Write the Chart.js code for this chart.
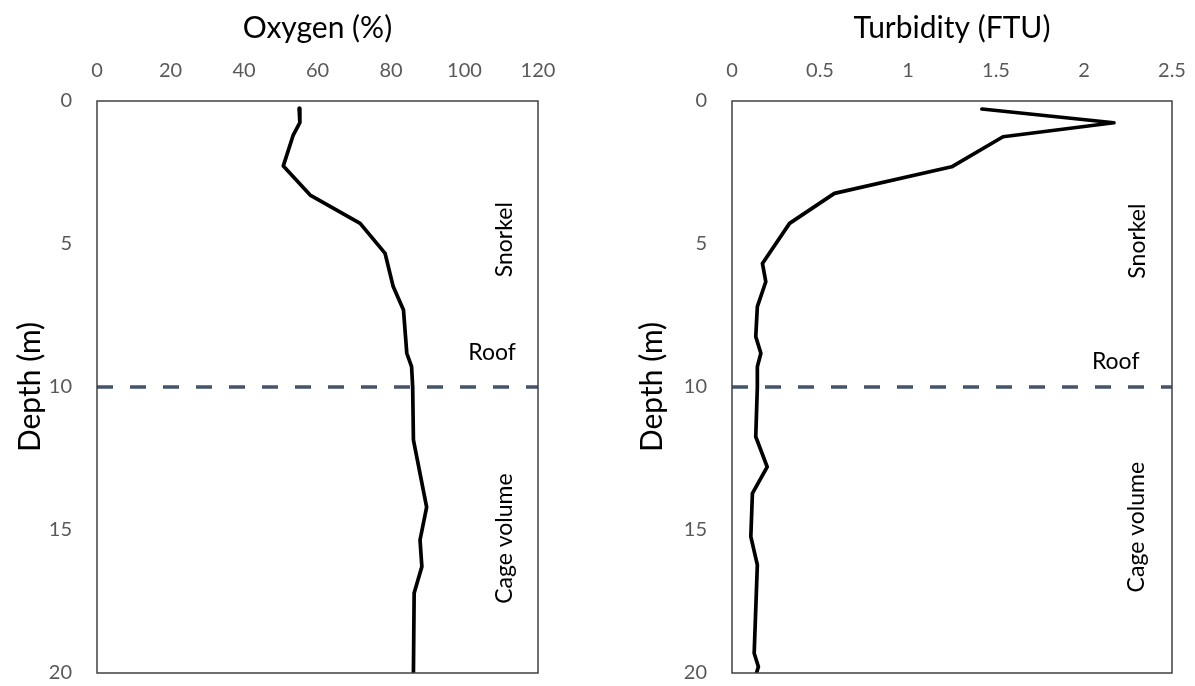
<!DOCTYPE html>
<html><head><meta charset="utf-8">
<script src="https://cdn.jsdelivr.net/npm/chart.js@4"></script>
<style>
html,body{margin:0;padding:0;background:#fff;width:1195px;height:686px;overflow:hidden}
canvas{position:absolute;top:0}
</style></head><body>
<canvas id="c1" width="597" height="686" style="left:0"></canvas>
<canvas id="c2" width="598" height="686" style="left:597px"></canvas>
<script>
// ---- data ----
const oxygenDepth  = [0.26, 0.76, 1.19, 2.27, 3.29, 4.28, 5.33, 6.49, 7.31, 8.82, 9.29, 10.0, 11.85, 14.2, 15.35, 16.28, 17.2, 20.0];
const oxygenValues = [55.0, 55.2, 53.4, 50.7, 58.0, 71.6, 78.4, 80.6, 83.4, 84.3, 85.6, 85.9, 86.1, 89.7, 87.9, 88.4, 86.3, 86.1];
const turbidityDepth  = [0.28, 0.76, 1.25, 2.3, 3.23, 4.28, 5.68, 6.32, 7.19, 8.24, 8.82, 9.29, 10.0, 11.74, 12.79, 13.72, 15.23, 16.22, 19.31, 19.78, 20.0];
const turbidityValues = [1.42, 2.17, 1.54, 1.248, 0.582, 0.327, 0.173, 0.192, 0.144, 0.135, 0.164, 0.144, 0.144, 0.135, 0.2, 0.116, 0.107, 0.144, 0.126, 0.15, 0.139];
const roofDepth = 10;
const depthTicks = [0, 5, 10, 15, 20];
const oxygenRange = [0, 120];
const turbidityRange = [0, 2.5];
const zoneLabels = ["Snorkel", "Roof", "Cage volume"];
const oxygenZoneDepths = [4.85, 8.8, 15.3];
const turbidityZoneDepths = [4.9, 9.1, 14.9];
const oxygenLabelX = [111, 107.5, 111];
const turbidityLabelX = [2.305, 2.18, 2.30];

const FONT = "Lato, 'Open Sans', sans-serif";
const TICK_COLOR = '#595959';

const boxPlugin = {
  id: 'box',
  beforeDraw(chart) {
    const c = chart.ctx;
    c.save(); c.fillStyle = '#fff'; c.fillRect(0, 0, chart.width, chart.height); c.restore();
  },
  afterDraw(chart) {
    const a = chart.chartArea, c = chart.ctx;
    c.save();
    c.strokeStyle = '#404040'; c.lineWidth = 1.5;
    c.strokeRect(a.left, a.top, a.right - a.left, a.bottom - a.top);
    const xs = chart.options.plugins.zoneX;
    const ys = chart.options.plugins.zoneY;
    c.fillStyle = '#000';
    c.font = "23px " + FONT;
    c.textAlign = 'center'; c.textBaseline = 'middle';
    zoneLabels.forEach((t, i) => {
      const px = chart.scales.x.getPixelForValue(xs[i]);
      const py = chart.scales.y.getPixelForValue(ys[i]);
      c.save();
      c.translate(px, py);
      if (t !== 'Roof') c.rotate(-Math.PI / 2);
      c.fillText(t, 0, 0);
      c.restore();
    });
    c.restore();
  }
};

function makeChart(id, xs, ds, range, step, title, yWidth, yTitlePad, padRight, zoneX, zoneY) {
  const pts = xs.map((v, i) => ({x: v, y: ds[i]}));
  return new Chart(document.getElementById(id), {
    type: 'scatter',
    data: {
      datasets: [
        {data: pts, showLine: true, borderColor: '#000', borderWidth: 3.7, borderJoinStyle: 'round', borderCapStyle: 'round',
         pointRadius: 0, tension: 0, fill: false},
        {data: [{x: range[0], y: roofDepth}, {x: range[1], y: roofDepth}], showLine: true, borderColor: '#44546A',
         borderWidth: 3.7, borderDash: [16, 17], pointRadius: 0, fill: false}
      ]
    },
    options: {
      responsive: false, animation: false,
      layout: {padding: {left: 0, top: 0, right: padRight, bottom: 13}},
      plugins: {legend: {display: false}, tooltip: {enabled: false}, zoneX: zoneX, zoneY: zoneY},
      scales: {
        x: {
          type: 'linear', position: 'top', min: range[0], max: range[1],
          afterFit(s) { s.height = 101; s.paddingLeft = 0; s.paddingRight = 0; },
          grid: {display: false, drawTicks: false},
          border: {display: false},
          ticks: {stepSize: step, color: TICK_COLOR, font: {family: FONT, size: 20}, padding: 18, maxRotation: 0,
                  callback: v => String(Number(v.toFixed(2)))},
          title: {display: true, text: title, color: '#000', font: {family: FONT, size: 30}, padding: {top: 10, bottom: 0}}
        },
        y: {
          type: 'linear', position: 'left', reverse: true, min: 0, max: 20,
          afterFit(s) { s.width = yWidth; s.paddingTop = 0; s.paddingBottom = 0; },
          afterBuildTicks(s) { s.ticks = depthTicks.map(v => ({value: v})); },
          grid: {display: false, drawTicks: false},
          border: {display: false},
          ticks: {color: TICK_COLOR, font: {family: FONT, size: 20}, padding: 25},
          title: {display: true, text: 'Depth (m)', color: '#000', font: {family: FONT, size: 30}, padding: {top: yTitlePad, bottom: 0}}
        }
      }
    },
    plugins: [boxPlugin]
  });
}

makeChart('c1', oxygenValues, oxygenDepth, oxygenRange, 20, 'Oxygen (%)', 97, 12, 59, oxygenLabelX, oxygenZoneDepths);
makeChart('c2', turbidityValues, turbidityDepth, turbidityRange, 0.5, 'Turbidity (FTU)', 135, 37, 23, turbidityLabelX, turbidityZoneDepths);
</script>
</body></html>
